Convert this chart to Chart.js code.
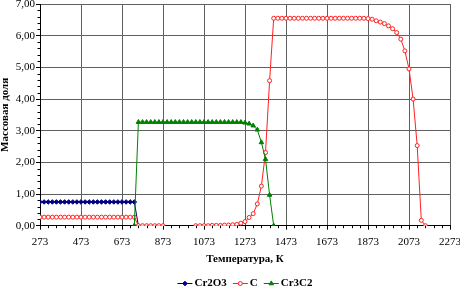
<!DOCTYPE html>
<html><head><meta charset="utf-8">
<script src="https://cdn.jsdelivr.net/npm/chart.js@4/dist/chart.umd.min.js"></script>
<style>html,body{margin:0;padding:0;background:#fff}canvas{display:block}</style>
</head><body>
<canvas id="c" width="460" height="287"></canvas>
<script>
const temperatures = [273,293,313,333,353,373,393,413,433,453,473,493,513,533,553,573,593,613,633,653,673,693,713,733,753,773,793,813,833,853,873,893,913,933,953,973,993,1013,1033,1053,1073,1093,1113,1133,1153,1173,1193,1213,1233,1253,1273,1293,1313,1333,1353,1373,1393,1413,1433,1453,1473,1493,1513,1533,1553,1573,1593,1613,1633,1653,1673,1693,1713,1733,1753,1773,1793,1813,1833,1853,1873,1893,1913,1933,1953,1973,1993,2013,2033,2053,2073,2093,2113,2133,2153];
const xTickValues = [273,473,673,873,1073,1273,1473,1673,1873,2073,2273];
const yTickValues = [0,1,2,3,4,5,6,7];
const seriesNames = ['Cr2O3','C','Cr3C2'];
// values aligned with temperatures; missing trailing values = no data
const cr2o3 = [0.75,0.75,0.75,0.75,0.75,0.75,0.75,0.75,0.75,0.75,0.75,0.75,0.75,0.75,0.75,0.75,0.75,0.75,0.75,0.75,0.75,0.75,0.75,0.75,0];
const carbon = [0.27,0.27,0.27,0.27,0.27,0.27,0.27,0.27,0.27,0.27,0.27,0.27,0.27,0.27,0.27,0.27,0.27,0.27,0.27,0.27,0.27,0.27,0.27,0.27,
  0,0,0,0,0,0,0,
  null,null,null,null,null,null,null,
  0,0,0,0,0.01,0.01,0.01,0.02,0.02,0.03,
  0.04,0.08,0.13,0.26,0.38,0.69,1.25,2.31,4.58,
  6.55,6.55,6.55,6.55,6.55,6.55,6.55,6.55,6.55,6.55,6.55,6.55,6.55,6.55,6.55,6.55,6.55,6.55,6.55,6.55,6.55,6.55,6.55,6.54,
  6.52,6.47,6.43,6.38,6.31,6.22,6.10,5.89,5.52,4.95,4.00,2.53,0.17,0];
const cr3c2 = [null,null,null,null,null,null,null,null,null,null,null,null,null,null,null,null,null,null,null,null,null,null,null,
  0,
  3.27,3.27,3.27,3.27,3.27,3.27,3.27,3.27,3.27,3.27,3.27,3.27,3.27,3.27,3.27,3.27,3.27,3.27,3.27,3.27,3.27,3.27,3.27,3.27,3.27,3.27,
  3.25,3.22,3.16,3.03,2.63,2.10,0.97,0];

const SERIF = "'Liberation Serif','Times New Roman',serif";
const toPoints = arr => temperatures.map((t,i)=>({x:t, y:(i<arr.length && arr[i]!==null) ? arr[i] : null}));

const minorTicks = {
  id:'minorTicks',
  afterDraw(chart){
    const {ctx, chartArea:ca} = chart; const x = chart.scales.x, y = chart.scales.y;
    ctx.save(); ctx.strokeStyle='#000'; ctx.lineWidth=1; ctx.beginPath();
    for(let i=0;i<xTickValues.length-1;i++){
      const a=xTickValues[i], b=xTickValues[i+1];
      for(let k=1;k<5;k++){ const px=Math.round(x.getPixelForValue(a+(b-a)*k/5))+0.5; ctx.moveTo(px,ca.bottom); ctx.lineTo(px,ca.bottom+2.5); }
    }
    for(let i=0;i<yTickValues.length-1;i++){
      const a=yTickValues[i], b=yTickValues[i+1];
      for(let k=1;k<5;k++){ const py=Math.round(y.getPixelForValue(a+(b-a)*k/5))+0.5; ctx.moveTo(ca.left-2.5,py); ctx.lineTo(ca.left,py); }
    }
    ctx.stroke(); ctx.restore();
  }
};

const customLegend = {
  id:'customLegend',
  afterDraw(chart){
    const {ctx, chartArea:ca} = chart;
    ctx.save();
    ctx.font = "bold 11px " + SERIF;
    ctx.textBaseline='middle'; ctx.textAlign='left';
    const lineLen=15, gapT=2, gapItem=6;
    const items = chart.data.datasets.map(ds=>({ds, w: lineLen+gapT+ctx.measureText(ds.label).width}));
    const total = items.reduce((s,it)=>s+it.w,0)+gapItem*(items.length-1);
    let xx = (ca.left+ca.right)/2 - total/2;
    const yy = 283.5;
    items.forEach(it=>{
      const ds=it.ds;
      ctx.strokeStyle=ds.borderColor; ctx.lineWidth=1;
      ctx.beginPath(); ctx.moveTo(xx,yy); ctx.lineTo(xx+lineLen,yy); ctx.stroke();
      ctx.fillStyle=ds.pointBackgroundColor; ctx.strokeStyle=ds.pointBorderColor;
      Chart.helpers.drawPoint(ctx,{pointStyle:ds.pointStyle,radius:ds.pointRadius,borderWidth:1,rotation:0}, xx+lineLen/2, yy);
      ctx.fillStyle='#000';
      ctx.fillText(ds.label, xx+lineLen+gapT, yy);
      xx += it.w + gapItem;
    });
    ctx.restore();
  }
};

new Chart(document.getElementById('c'), {
  type:'line',
  data:{ datasets:[
    {label:seriesNames[0], data:toPoints(cr2o3), borderColor:'#000080', backgroundColor:'#000080', pointBackgroundColor:'#000080', pointBorderColor:'#000080', pointStyle:'rectRot', pointRadius:2.3, borderWidth:1, order:2},
    {label:seriesNames[1], data:toPoints(carbon), borderColor:'#ff2020', backgroundColor:'#ffffff', pointBackgroundColor:'#ffffff', pointBorderColor:'#ff2020', pointStyle:'circle', pointRadius:2, pointBorderWidth:1, borderWidth:1, order:1},
    {label:seriesNames[2], data:toPoints(cr3c2), borderColor:'#008000', backgroundColor:'#008000', pointBackgroundColor:'#008000', pointBorderColor:'#008000', pointStyle:'triangle', pointRadius:2.6, borderWidth:1, order:0}
  ]},
  options:{
    responsive:false, devicePixelRatio:1, animation:false,
    layout:{padding:{left:0,top:3,right:10,bottom:0}},
    elements:{line:{tension:0}, point:{hoverRadius:3}},
    plugins:{legend:{display:false}, tooltip:{enabled:false}},
    scales:{
      x:{type:'linear', min:273, max:2273,
        afterBuildTicks: s=>{ s.ticks = xTickValues.map(v=>({value:v})); },
        afterFit: s=>{ s.height = 61.3; s.paddingLeft=0; s.paddingRight=0; },
        grid:{color:'#606060', lineWidth:1, drawTicks:true, tickLength:4, tickColor:'#000'},
        border:{color:'#000', width:1},
        ticks:{color:'#000', font:{family:SERIF, size:11}, padding:6, maxRotation:0, autoSkip:false, callback:v=>String(v)},
        title:{display:true, text:'Температура, К', color:'#000', font:{family:SERIF, size:11, weight:'bold'}, padding:{top:4,bottom:21.5}}
      },
      y:{min:0, max:7,
        afterBuildTicks: s=>{ s.ticks = yTickValues.map(v=>({value:v})); },
        afterFit: s=>{ s.width = 40; s.paddingTop=0; s.paddingBottom=0; },
        grid:{color:'#606060', lineWidth:1, drawTicks:true, tickLength:4, tickColor:'#000'},
        border:{color:'#000', width:1},
        ticks:{color:'#000', font:{family:SERIF, size:11}, padding:1, callback:v=>v.toFixed(2).replace('.',',')},
        title:{display:true, text:'Массовая доля', color:'#000', font:{family:SERIF, size:11, weight:'bold', lineHeight:1}, padding:0}
      }
    }
  },
  plugins:[minorTicks, customLegend]
});
</script>
</body></html>
